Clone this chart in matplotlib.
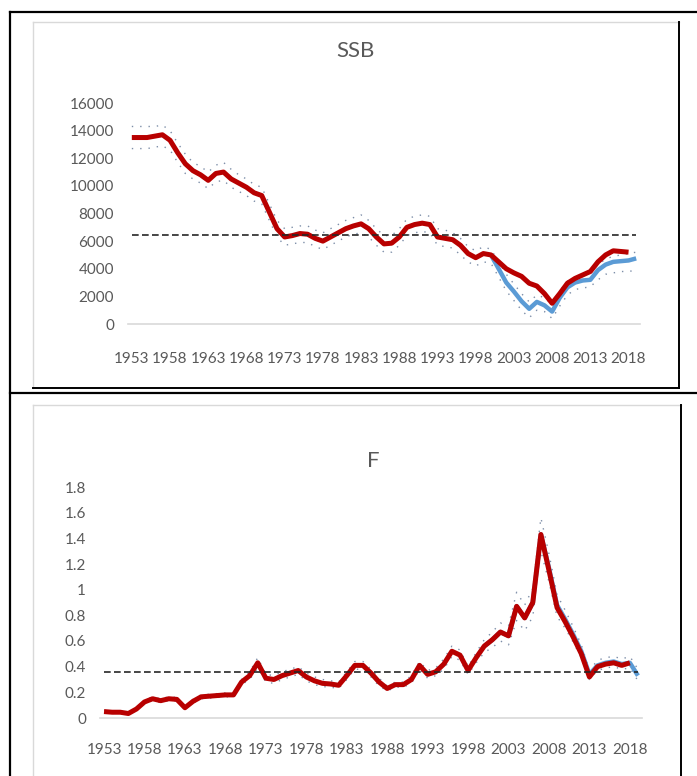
import matplotlib.pyplot as plt
from matplotlib.lines import Line2D
import numpy as np

# stock summary: spawning stock biomass and fishing mortality
years = np.arange(1953, 2020)

ssb_prev = [13500, 13500, 13500, 13600, 13700, 13300, 12400, 11600, 11100, 10800,
            10400, 10900, 11000, 10500, 10200, 9900, 9500, 9300, 8100, 6900,
            6300, 6400, 6550, 6500, 6200, 6000, 6300, 6600, 6900, 7100,
            7250, 6900, 6300, 5800, 5850, 6300, 7000, 7200, 7300, 7200,
            6300, 6200, 6100, 5700, 5100, 4800, 5100, 5000, 4500, 4000,
            3700, 3450, 2950, 2750, 2200, 1500, 2200, 2950, 3300, 3550,
            3800, 4500, 5000, 5300, 5250, 5200]
ssb_new = [5000, 4000, 3000, 2350, 1650, 1100, 1600, 1350, 900, 1900,
           2650, 3000, 3150, 3200, 3900, 4300, 4500, 4550, 4600, 4750]
ssb_high = [14300, 14300, 14300, 14300, 14400, 14000, 13100, 12300, 11700, 11400,
            11000, 11500, 11700, 11200, 10800, 10500, 10100, 9900, 8700, 7500,
            6900, 7000, 7100, 7100, 6800, 6600, 6900, 7200, 7500, 7700,
            7900, 7500, 6900, 6400, 6400, 6900, 7600, 7800, 7900, 7800,
            6900, 6800, 6600, 6200, 5600, 5300, 5600, 5400, 4500, 3600,
            2900, 2200, 1600, 2100, 1900, 1400, 2400, 3100, 3400, 3600,
            3700, 4300, 4700, 4900, 5000, 5100, 5200]
ssb_low = [12700, 12700, 12700, 12800, 12900, 12600, 11700, 10900, 10500, 10200,
           9800, 10300, 10400, 9900, 9600, 9300, 8900, 8700, 7500, 6300,
           5700, 5800, 5900, 5900, 5600, 5400, 5700, 6000, 6300, 6500,
           6600, 6300, 5700, 5200, 5200, 5700, 6400, 6600, 6700, 6600,
           5700, 5600, 5500, 5000, 4500, 4200, 4500, 4400, 3400, 2400,
           1700, 1000, 450, 1000, 900, 400, 1300, 2100, 2500, 2600,
           2700, 3200, 3600, 3700, 3800, 3800, 3900]
b_pa = 6450

f_prev = [0.05, 0.045, 0.045, 0.035, 0.07, 0.125, 0.15, 0.135, 0.15, 0.145,
          0.08, 0.13, 0.165, 0.17, 0.175, 0.18, 0.18, 0.28, 0.33, 0.43,
          0.31, 0.30, 0.33, 0.35, 0.37, 0.32, 0.29, 0.27, 0.265, 0.255,
          0.33, 0.41, 0.41, 0.35, 0.28, 0.23, 0.26, 0.26, 0.30, 0.41,
          0.34, 0.36, 0.42, 0.52, 0.49, 0.37, 0.47, 0.56, 0.61, 0.67,
          0.64, 0.87, 0.78, 0.90, 1.43, 1.15, 0.86, 0.75, 0.63, 0.50,
          0.32, 0.40, 0.42, 0.43, 0.41, 0.43]
f_new = [0.56, 0.61, 0.67, 0.64, 0.87, 0.78, 0.90, 1.43, 1.17, 0.88,
         0.77, 0.65, 0.52, 0.34, 0.41, 0.43, 0.44, 0.42, 0.43, 0.33]
f_high = [0.06, 0.055, 0.055, 0.045, 0.08, 0.14, 0.165, 0.15, 0.165, 0.16,
          0.09, 0.145, 0.18, 0.185, 0.19, 0.195, 0.195, 0.30, 0.36, 0.47,
          0.34, 0.33, 0.36, 0.38, 0.40, 0.35, 0.32, 0.30, 0.29, 0.28,
          0.36, 0.44, 0.44, 0.38, 0.31, 0.25, 0.28, 0.28, 0.33, 0.44,
          0.37, 0.39, 0.46, 0.56, 0.53, 0.40, 0.51, 0.61, 0.67, 0.74,
          0.72, 0.98, 0.88, 1.01, 1.56, 1.28, 0.96, 0.84, 0.71, 0.57,
          0.37, 0.45, 0.47, 0.48, 0.46, 0.48, 0.38]
f_low = [0.04, 0.036, 0.036, 0.028, 0.06, 0.115, 0.135, 0.12, 0.135, 0.13,
         0.07, 0.115, 0.15, 0.155, 0.16, 0.165, 0.165, 0.26, 0.30, 0.39,
         0.28, 0.27, 0.30, 0.32, 0.34, 0.29, 0.26, 0.245, 0.24, 0.23,
         0.30, 0.38, 0.38, 0.32, 0.25, 0.21, 0.24, 0.24, 0.27, 0.38,
         0.31, 0.33, 0.38, 0.48, 0.45, 0.34, 0.43, 0.51, 0.55, 0.60,
         0.57, 0.76, 0.68, 0.79, 1.30, 1.06, 0.79, 0.70, 0.59, 0.47,
         0.30, 0.37, 0.39, 0.40, 0.38, 0.39, 0.29]
f_pa = 0.357

ssb_ticks = [0, 2000, 4000, 6000, 8000, 10000, 12000, 14000, 16000]
f_ticks = [0, 0.2, 0.4, 0.6, 0.8, 1, 1.2, 1.4, 1.6, 1.8]
f_ticklabels = ['0', '0.2', '0.4', '0.6', '0.8', '1', '1.2', '1.4', '1.6', '1.8']
year_ticks = list(range(1953, 2019, 5))

W, H = 697, 776
RED = '#B80000'
BLUE = '#5B9BD5'
GREY = '#595959'

plt.rcParams['font.family'] = ['Lato', 'DejaVu Sans']

fig = plt.figure(figsize=(W / 100, H / 100), dpi=100)


def fline(xs, ys, **kw):
    fig.add_artist(Line2D([x / W for x in xs], [1 - y / H for y in ys],
                          transform=fig.transFigure, **kw))


def add_ax(left, top, right, bottom):
    return fig.add_axes([left / W, 1 - bottom / H, (right - left) / W, (bottom - top) / H])


# table frame
fline([10, 10], [12, H], color='black', lw=1.6)
fline([10, W], [12, 12], color='black', lw=1.6)
fline([10, W], [393, 393], color='black', lw=1.6)

# chart boxes: light top/left, dark right/bottom
fline([33, 679], [22, 22], color='#d9d9d9', lw=1)
fline([33, 33], [22, 388], color='#d9d9d9', lw=1)
fline([679, 679], [22, 388], color='black', lw=1.4)
fline([33, 679], [388, 388], color='black', lw=1.4)
fline([33, 681], [405, 405], color='#d9d9d9', lw=1)
fline([33, 33], [405, H], color='#d9d9d9', lw=1)
fline([681, 681], [405, H], color='black', lw=1.4)


def style(ax, ylim, yticks, ylabels, xpad, ypad):
    ax.set_xlim(1952.5, 2019.5)
    ax.set_ylim(*ylim)
    for s in ['top', 'right', 'left']:
        ax.spines[s].set_visible(False)
    ax.spines['bottom'].set_color('#d9d9d9')
    ax.spines['bottom'].set_linewidth(1.2)
    ax.set_yticks(yticks)
    ax.set_yticklabels(ylabels)
    ax.set_xticks(year_ticks)
    ax.set_xticklabels([str(y) for y in year_ticks])
    ax.tick_params(length=0, labelsize=11, labelcolor=GREY)
    ax.tick_params(axis='x', pad=xpad)
    ax.tick_params(axis='y', pad=ypad)
    ax.patch.set_alpha(0)


def draw(ax, prev, new, high, low, ref):
    dots = dict(color='#7d8ea8', lw=1.0, linestyle=(0, (1, 5)))
    ax.plot(years, high, **dots)
    ax.plot(years, low, **dots)
    ax.plot(years[-len(new):], new, color=BLUE, lw=3.2, solid_capstyle='butt')
    ax.plot(years[:len(prev)], prev, color=RED, lw=3.6, solid_capstyle='butt')
    ax.plot([years[0], years[-1]], [ref, ref], color='#262626', lw=1.2,
            linestyle=(0, (4, 2)))


# SSB panel
ax1 = add_ax(128, 103, 640, 324)
draw(ax1, ssb_prev, ssb_new, ssb_high, ssb_low, b_pa)
style(ax1, (0, 16000), ssb_ticks, [str(t) for t in ssb_ticks], 20, 10)
fig.text(355 / W, 1 - 51 / H, 'SSB', ha='center', va='center', fontsize=16, color=GREY)

# F panel
ax2 = add_ax(100, 487, 642, 718)
draw(ax2, f_prev, f_new, f_high, f_low, f_pa)
style(ax2, (0, 1.8), f_ticks, f_ticklabels, 18, 10)
fig.text(373 / W, 1 - 461 / H, 'F', ha='center', va='center', fontsize=16, color=GREY)

fig.savefig('out.png', dpi=100)
